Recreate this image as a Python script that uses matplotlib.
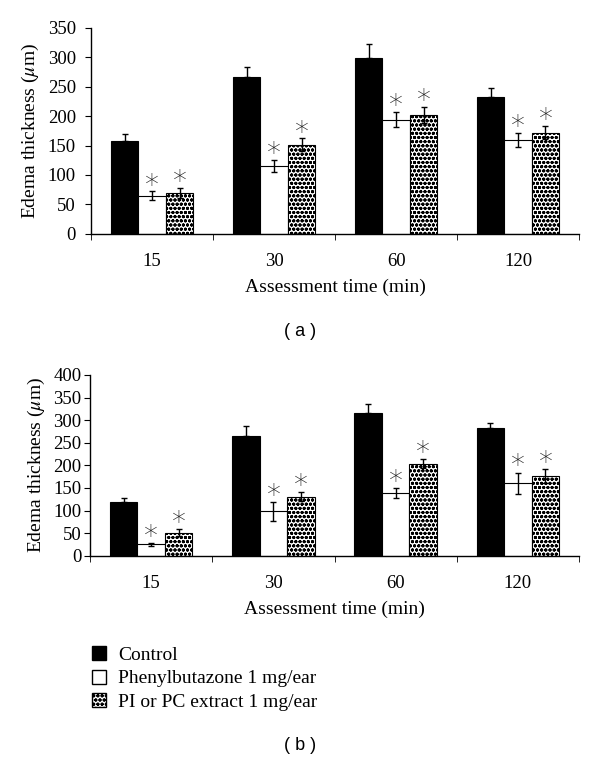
import numpy as np
import matplotlib
matplotlib.use('Agg')
import matplotlib.pyplot as plt
from matplotlib.patches import Patch

plt.rcParams['font.family'] = 'Liberation Serif'
plt.rcParams['mathtext.fontset'] = 'stix'
plt.rcParams['hatch.linewidth'] = 1.0

times = ['15', '30', '60', '120']
groups = ['Control', 'Phenylbutazone 1 mg/ear', 'PI or PC extract 1 mg/ear']

# panel (a)
a_control = [157, 266, 299, 233]
a_control_err = [13, 17, 24, 14]
a_pheny = [65, 115, 194, 160]
a_pheny_err = [7, 10, 13, 12]
a_extract = [69, 151, 202, 172]
a_extract_err = [9, 11, 14, 11]

# panel (b)
b_control = [119, 266, 315, 282]
b_control_err = [9, 20, 21, 12]
b_pheny = [25, 98, 138, 160]
b_pheny_err = [3, 21, 11, 24]
b_extract = [51, 131, 204, 176]
b_extract_err = [8, 9, 9, 15]

fig = plt.figure(figsize=(6, 7.64), dpi=100)


def draw_panel(ax, ctrl, ctrl_e, ph, ph_e, ex, ex_e, ymax, star_off, ypad):
    x = np.arange(len(times))
    w = 0.225
    ekw = dict(ecolor='black', elinewidth=1.0, capsize=2.5, capthick=1.0)
    ax.bar(x - w, ctrl, w, color='black', edgecolor='black', lw=0.8,
           yerr=[np.zeros(len(ctrl)), ctrl_e], error_kw=ekw)
    ax.bar(x, ph, w, color='white', edgecolor='black', lw=0.8,
           yerr=ph_e, error_kw=ekw)
    ax.bar(x + w, ex, w, color='white', edgecolor='black', lw=0.8,
           hatch='oooo', yerr=ex_e, error_kw=ekw)
    for xs, vals, errs in [(x, ph, ph_e), (x + w, ex, ex_e)]:
        for xi, v, e in zip(xs, vals, errs):
            ax.text(xi, v + e + star_off, '*', ha='center', va='center',
                    fontsize=20, family='DejaVu Sans', fontweight='light',
                    color='#222222')
    ax.set_xlim(-0.5, len(times) - 0.5)
    ax.set_ylim(0, ymax)
    ax.set_yticks(np.arange(0, ymax + 1, 50))
    ax.set_xticks(x)
    ax.set_xticklabels(times)
    ax.set_xticks(np.arange(-0.5, len(times), 1), minor=True)
    ax.tick_params(axis='x', which='major', length=0, pad=14, labelsize=13.5)
    ax.tick_params(axis='x', which='minor', length=4, direction='out')
    ax.tick_params(axis='y', length=4, direction='out', labelsize=13.5,
                   pad=ypad)
    for s in ['top', 'right']:
        ax.spines[s].set_visible(False)
    ax.spines['left'].set_linewidth(1.0)
    ax.spines['bottom'].set_linewidth(1.0)
    ax.set_ylabel(r'Edema thickness ($\mu$m)', fontsize=14, labelpad=5)
    ax.set_xlabel('Assessment time (min)', fontsize=14, labelpad=6)


ax1 = fig.add_axes([0.152, 0.694, 0.813, 0.2696])
draw_panel(ax1, a_control, a_control_err, a_pheny, a_pheny_err,
           a_extract, a_extract_err, 350, 10, 7)

ax2 = fig.add_axes([0.150, 0.2726, 0.815, 0.2366])
draw_panel(ax2, b_control, b_control_err, b_pheny, b_pheny_err,
           b_extract, b_extract_err, 400, 14, 2)

fig.text(0.5, 1 - 331 / 764, '( a )', ha='center', va='center',
         fontsize=13, family='Liberation Sans')
fig.text(0.5, 1 - 746 / 764, '( b )', ha='center', va='center',
         fontsize=13, family='Liberation Sans')

handles = [Patch(facecolor='black', edgecolor='black'),
           Patch(facecolor='white', edgecolor='black'),
           Patch(facecolor='white', edgecolor='black', hatch='oooo')]
fig.legend(handles, groups, loc='upper left',
           bbox_to_anchor=(0.140, 1 - 638 / 764), frameon=False,
           fontsize=14, handlelength=0.75, handleheight=0.75,
           handletextpad=0.6, labelspacing=0.3, borderaxespad=0)

fig.savefig('out.png', dpi=100)
